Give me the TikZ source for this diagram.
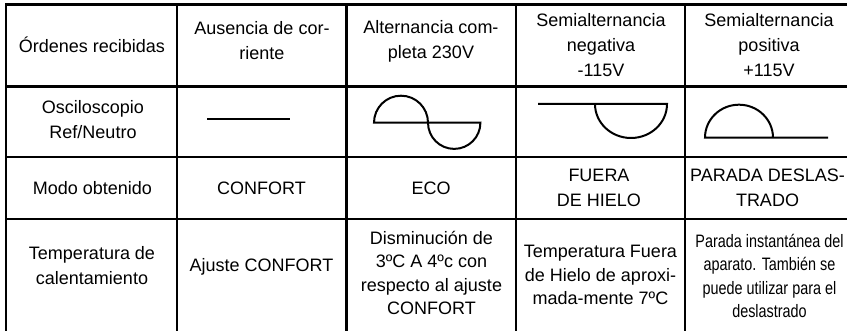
\documentclass[tikz,border=0pt]{standalone}
\usepackage{fontspec}
\setmainfont{Liberation Sans}
\newfontfamily\narrowfont[FakeStretch=0.8]{Liberation Sans}

\begin{document}
\begin{tikzpicture}[x=1pt,y=1pt,
    cell/.style={align=center, inner sep=0pt, font=\fontsize{18}{25}\selectfont},
    tallcell/.style={cell, font=\fontsize{18}{23.5}\selectfont},
    grid/.style={line width=2.4pt},
    wave/.style={line width=2pt}]
    \useasboundingbox (0,0) rectangle (847,-331);

    % rejilla
    \draw[grid] (847,-4.5) -- (6,-4.5) -- (6,-331);
    \draw[grid] (6,-86.5) -- (847,-86.5);
    \draw[grid] (6,-157) -- (847,-157);
    \draw[grid] (6,-219) -- (847,-219);
    \draw[grid] (177,-4.5) -- (177,-331);
    \draw[grid] (346.5,-4.5) -- (346.5,-331);
    \draw[grid] (516,-4.5) -- (516,-331);
    \draw[grid] (685,-4.5) -- (685,-331);

    \node[cell] (ordenes) at (92,-45) {Órdenes recibidas};
    \node[cell] (ausencia) at (262,-41) {Ausencia de cor-\\riente};
    \node[cell] (alterna) at (431,-41) {Alternancia com-\\pleta 230V};
    \node[cell] (seminega) at (601,-45.5) {Semialternancia\\negativa\\-115V};
    \node[cell] (semiposi) at (769,-45.5) {Semialternancia\\positiva\\+115V};

    \node[cell] (oscilo) at (93,-120) {Osciloscopio\\Ref/Neutro};
    % formas de onda
    \draw[wave] (207,-119) -- (290,-119);
    \draw[wave] (374,-122.7) arc[start angle=180, end angle=0, radius=27]
        arc[start angle=180, end angle=360, radius=26.2] -- cycle;
    \draw[wave] (538,-104) -- (667,-104)
        arc[start angle=0, end angle=-180, x radius=36, y radius=34];
    \draw[wave] (828,-137.7) -- (705,-137.7)
        arc[start angle=180, end angle=0, x radius=34, y radius=33];

    \node[cell] (modo) at (92.5,-188) {Modo obtenido};
    \node[cell] (confort) at (261.5,-188) {CONFORT};
    \node[cell] (eco) at (431,-188) {ECO};
    \node[cell] (fuera) at (599,-187.5) {FUERA\\DE HIELO};
    \node[cell] (parada) at (767.5,-187.5) {PARADA DESLAS-\\TRADO};

    \node[cell] (tempcal) at (92,-266) {Temperatura de\\calentamiento};
    \node[cell] (ajuste) at (261.5,-267) {Ajuste CONFORT};
    \node[tallcell] (disminu) at (431.5,-273) {Disminución de\\3ºC A 4ºc con\\respecto al ajuste\\CONFORT};
    \node[tallcell] (tempfue) at (600.5,-275) {Temperatura Fuera\\de Hielo de aproxi-\\mada-mente 7ºC};
    \node[tallcell, font=\narrowfont\fontsize{18}{23.5}\selectfont] (instant) at (769.5,-276)
        {Parada instantánea del\\aparato. También se\\puede utilizar para el\\deslastrado};
\end{tikzpicture}
\end{document}
